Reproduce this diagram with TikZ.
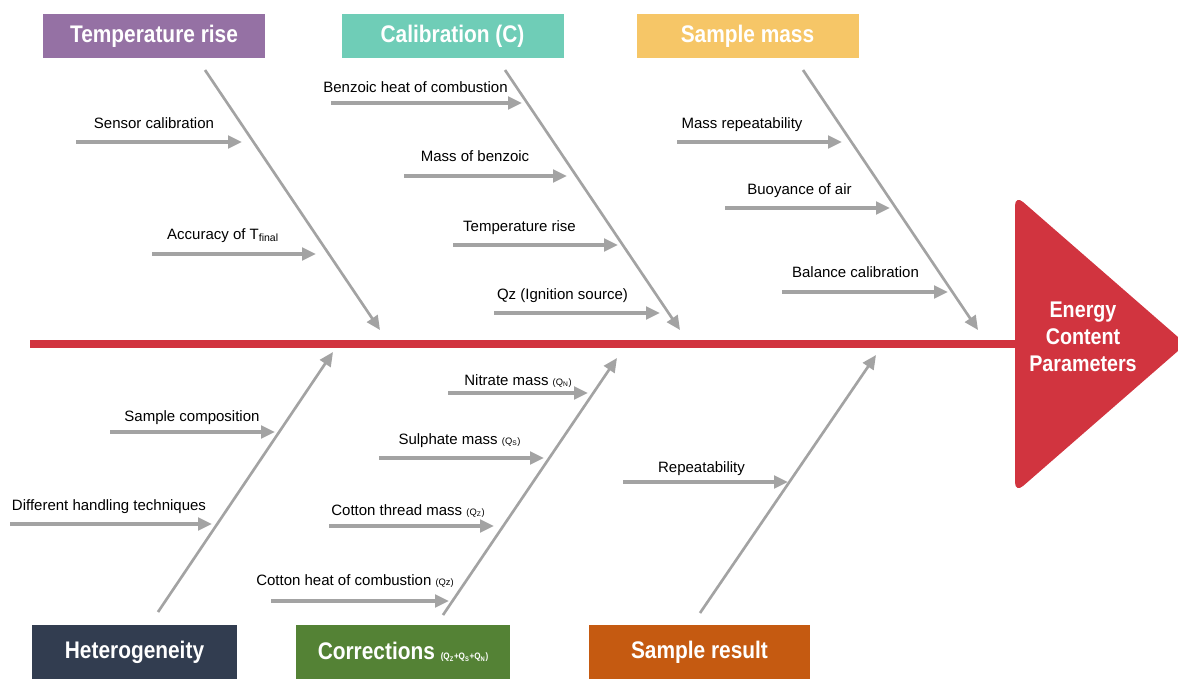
\documentclass[tikz,border=0pt]{standalone}
\usepackage{fontspec}
\setmainfont{Liberation Sans}
\newfontfamily\titlefont[FakeStretch=0.87]{Liberation Sans}
\usepackage{tikz}
\usetikzlibrary{arrows.meta,positioning}
\usepackage{xcolor}
\definecolor{fishred}{HTML}{D1343F}
\definecolor{fishgray}{HTML}{A3A3A3}
\definecolor{tempcol}{HTML}{9571A4}
\definecolor{calcol}{HTML}{6FCDB7}
\definecolor{masscol}{HTML}{F6C667}
\definecolor{hetcol}{HTML}{323D50}
\definecolor{corrcol}{HTML}{548235}
\definecolor{rescol}{HTML}{C55A11}
\newcommand\qsmall[1]{{\fontsize{7}{8}\selectfont #1}}
\tikzset{
  catbox/.style={
    text=white,
    minimum width=166.5pt,
    minimum height=33pt,
    inner sep=2pt,
    font=\titlefont\bfseries\fontsize{18}{20}\selectfont
  },
  bone/.style={
    -{Triangle[length=10.5pt,width=9.5pt]},
    line width=2pt,
    draw=fishgray
  },
  subarrow/.style={
    -{Triangle[length=10.5pt,width=9.5pt]},
    line width=2.4pt,
    draw=fishgray
  },
  causelabel/.style={
    anchor=base,
    inner sep=0pt,
    font=\fontsize{11.25}{13}\selectfont
  },
  spine/.style={
    line width=5.5pt,
    draw=fishred
  },
  headtext/.style={
    text=white,
    align=center,
    font=\titlefont\bfseries\fontsize{17}{20.25}\selectfont
  }
}

\begin{document}
\begin{tikzpicture}[x=0.75pt,y=-0.75pt]
  \useasboundingbox (0,0) rectangle (1178,679);
  % head and spine
  \fill[fishred, rounded corners=8] (1015,344) -- (1015,195) -- (1186,344) -- (1015,493) -- cycle;
  \node[headtext] (effect) at (1083,337) {Energy\\Content\\Parameters};
  \coordinate (tail) at (30,344);
  \coordinate (headbase) at (1017,344);
  \draw[spine] (tail) -- (headbase);
  % category boxes
  \node[catbox, fill=tempcol] (temp) at (154,36) {Temperature rise};
  \node[catbox, fill=calcol] (calib) at (452.5,36) {Calibration (C)};
  \node[catbox, fill=masscol] (mass) at (747.5,36) {Sample mass};
  \node[catbox, fill=hetcol, minimum width=153.75pt, minimum height=40.5pt] (hetero) at (134.5,652) {Heterogeneity};
  \node[catbox, fill=corrcol, minimum width=160.5pt, minimum height=40.5pt] (corr) at (403,652) {Corrections \qsmall{(Q\textsubscript{Z}+Q\textsubscript{S}+Q\textsubscript{N})}};
  \node[catbox, fill=rescol, minimum width=165.75pt, minimum height=40.5pt] (result) at (699.5,652) {Sample result};
  % bones
  \coordinate (temp-s) at (205,70);   \coordinate (temp-e) at (380,330);
  \coordinate (calib-s) at (505,70);  \coordinate (calib-e) at (680,330);
  \coordinate (mass-s) at (803,70);   \coordinate (mass-e) at (978,330);
  \coordinate (hetero-s) at (158,612); \coordinate (hetero-e) at (333,352);
  \coordinate (corr-s) at (443,615);  \coordinate (corr-e) at (617,358);
  \coordinate (result-s) at (700,613); \coordinate (result-e) at (876,355);
  \foreach \c in {temp,calib,mass,hetero,corr,result} {
    \draw[bone] (\c-s) -- (\c-e);
  }
  % causes
  \foreach \n/\xa/\xb/\ya/\tx/\ty/\lbl in {
      sensor/76/242/142/154/128/{Sensor calibration},
      accuracy/152/316/254/223/239/{Accuracy of T\textsubscript{final}},
      benzoic/331/522/103/415.5/92/{Benzoic heat of combustion},
      massbenz/404/567/176/475/161/{Mass of benzoic},
      temprise/453/618/245/519.5/231/{Temperature rise},
      ignition/494/660/313/562.5/299/{Qz (Ignition source)},
      massrep/677/842/142/742/128/{Mass repeatability},
      buoy/725/890/208/799.5/194/{Buoyance of air},
      balance/782/948/292/855.5/277/{Balance calibration},
      compo/110/275/432/192/421/{Sample composition},
      handling/10/212/524/109/510/{Different handling techniques},
      nitrate/448/588/393/518/385/{Nitrate mass \qsmall{(Q\textsubscript{N})}},
      sulphate/379/544/458/459.5/444/{Sulphate mass \qsmall{(Q\textsubscript{S})}},
      thread/329/494/526/408/515/{Cotton thread mass \qsmall{(Q\textsubscript{Z})}},
      cotheat/271/449/601/355/585/{Cotton heat of combustion \qsmall{(Qz)}},
      repeat/623/788/482/701.5/472/{Repeatability}} {
    \coordinate (\n-s) at (\xa,\ya);
    \coordinate (\n-e) at (\xb,\ya);
    \draw[subarrow] (\n-s) -- (\n-e);
    \node[causelabel] (\n) at (\tx,\ty) {\lbl};
  }
\end{tikzpicture}
\end{document}
